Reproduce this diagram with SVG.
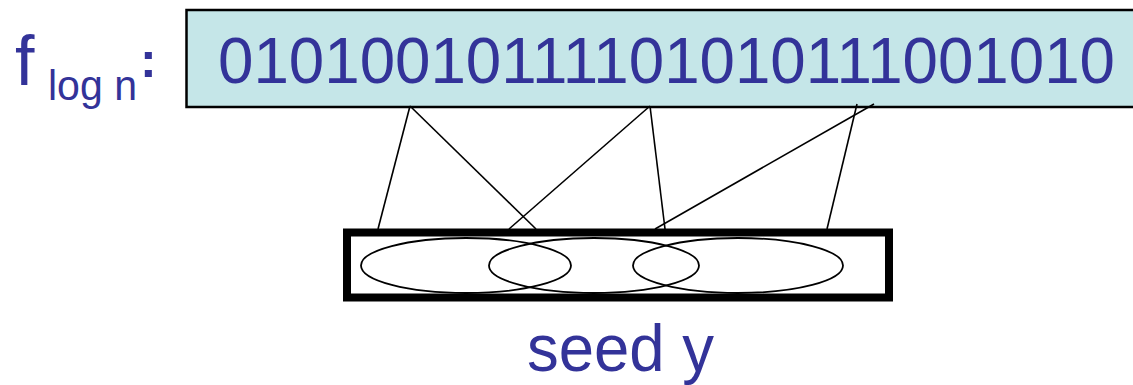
<svg xmlns="http://www.w3.org/2000/svg" width="1133" height="385" viewBox="0 0 1133 385">
<style>
.t{font-family:"Liberation Sans",Arial,sans-serif;fill:#333399}
.c line{stroke:#000;stroke-width:1.6}
.e{fill:none;stroke:#000;stroke-width:1.8}
</style>
<rect width="1133" height="385" fill="#fff"/>
<g id="label-f">
<text class="t" x="15" y="85" font-size="70">f</text>
<text class="t" x="48" y="100" font-size="42" textLength="89" lengthAdjust="spacingAndGlyphs">log n</text>
<text class="t" x="140" y="77" font-size="50" font-weight="bold">:</text>
</g>
<g id="bits">
<rect x="186.5" y="10" width="960" height="97" fill="#c5e6e8" stroke="#000" stroke-width="2.5"/>
<text class="t" x="218" y="83" font-size="64" textLength="897" lengthAdjust="spacingAndGlyphs">01010010111101010111001010</text>
</g>
<g id="connectors" class="c">
<line x1="410" y1="106" x2="378" y2="229"/>
<line x1="410" y1="106" x2="536" y2="229"/>
<line x1="650" y1="106" x2="509" y2="229"/>
<line x1="650" y1="106" x2="665" y2="229"/>
<line x1="857" y1="104" x2="827" y2="229"/>
<line x1="874" y1="104" x2="655" y2="229"/>
</g>
<g id="seed">
<rect x="347" y="232.5" width="542" height="65" fill="#fff" stroke="#000" stroke-width="8"/>
<ellipse class="e" cx="466" cy="265.5" rx="105" ry="27.5"/>
<ellipse class="e" cx="594" cy="265.5" rx="105" ry="27.5"/>
<ellipse class="e" cx="738" cy="265.5" rx="105" ry="27.5"/>
</g>
<g id="seed-label">
<text class="t" x="527" y="371" font-size="66" textLength="187" lengthAdjust="spacingAndGlyphs">seed y</text>
</g>
</svg>
